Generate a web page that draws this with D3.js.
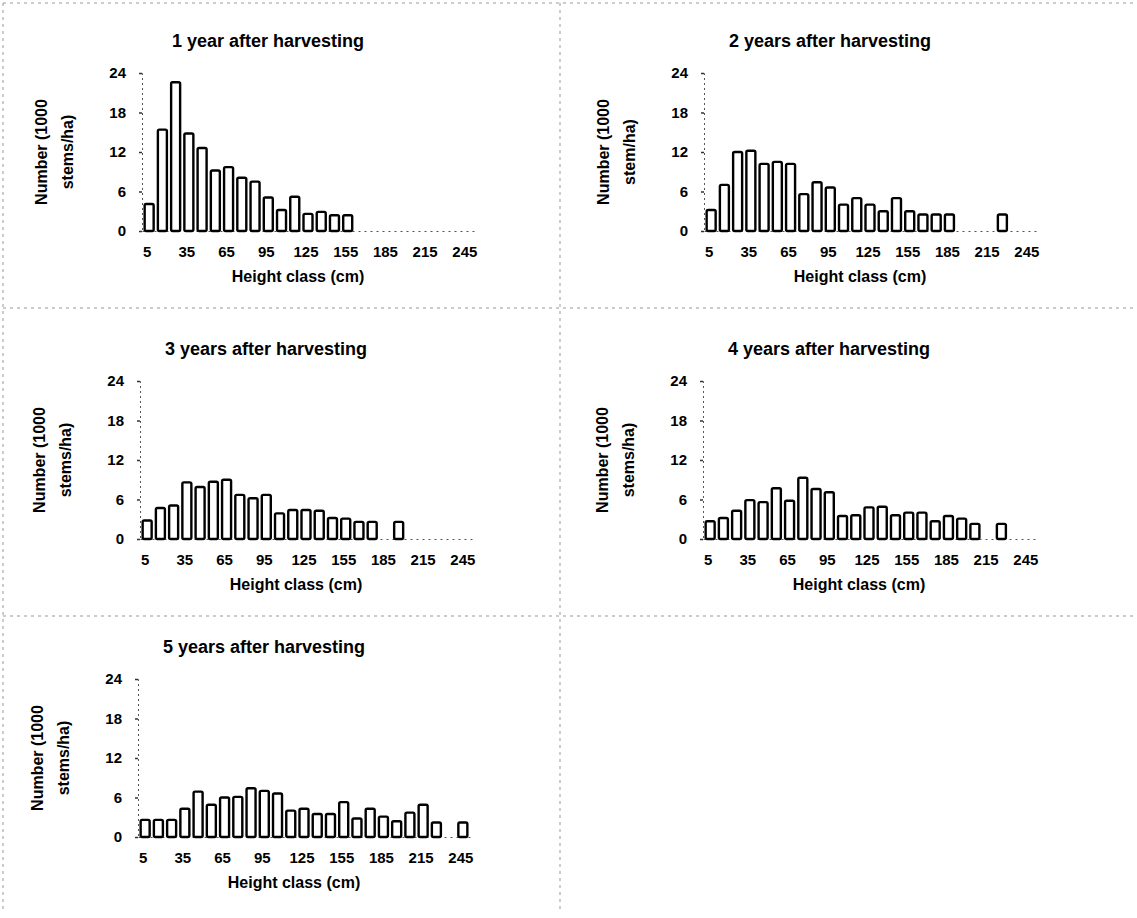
<!DOCTYPE html>
<html>
<head>
  <meta charset="utf-8">
  <title>Height class distribution after harvesting</title>
  <script src="https://d3js.org/d3.v7.min.js"></script>
  <style>
    body { margin: 0; background: #fff; }
    svg { font-family: "Liberation Sans", Arial, sans-serif; font-weight: bold; }
    .title { font-size: 18px; }
    .tick text { font-size: 15px; font-weight: bold; fill: #000; }
    .axis-title { font-size: 16px; }
    .frame { stroke: #999; stroke-width: 1; stroke-dasharray: 3,4; }
  </style>
</head>
<body>
  <svg id="chart" width="1137" height="918"></svg>
  <script>
    // height classes (cm)
    const heightClasses = [5, 15, 25, 35, 45, 55, 65, 75, 85, 95, 105, 115, 125,
      135, 145, 155, 165, 175, 185, 195, 205, 215, 225, 235, 245];
    const xTickLabels = [5, 35, 65, 95, 125, 155, 185, 215, 245];
    const yTickLabels = [0, 6, 12, 18, 24];

    // 1000 stems/ha per height class
    const year1 = [4.1, 15.4, 22.6, 14.8, 12.6, 9.2, 9.7, 8.1, 7.5, 5.1, 3.2, 5.2, 2.6,
      2.9, 2.4, 2.4, 0, 0, 0, 0, 0, 0, 0, 0, 0];
    const year2 = [3.2, 7.0, 12.0, 12.2, 10.2, 10.5, 10.2, 5.6, 7.4, 6.6, 4.0, 5.0, 4.0,
      3.0, 5.0, 3.0, 2.5, 2.5, 2.5, 0, 0, 0, 2.5, 0, 0];
    const year3 = [2.8, 4.7, 5.1, 8.6, 7.9, 8.7, 9.0, 6.7, 6.2, 6.7, 3.9, 4.4, 4.4,
      4.3, 3.2, 3.1, 2.6, 2.6, 0, 2.6, 0, 0, 0, 0, 0];
    const year4 = [2.7, 3.2, 4.3, 5.9, 5.6, 7.7, 5.8, 9.3, 7.6, 7.1, 3.5, 3.6, 4.8,
      4.9, 3.6, 4.0, 4.0, 2.7, 3.5, 3.1, 2.3, 0, 2.3, 0, 0];
    const year5 = [2.6, 2.6, 2.6, 4.3, 6.9, 4.9, 6.0, 6.1, 7.4, 7.0, 6.6, 4.0, 4.3,
      3.5, 3.5, 5.3, 2.8, 4.3, 3.1, 2.4, 3.7, 4.9, 2.2, 0, 2.2];

    const titles = ["1 year after harvesting", "2 years after harvesting",
      "3 years after harvesting", "4 years after harvesting", "5 years after harvesting"];
    const yTitleLine2 = ["stems/ha)", "stem/ha)", "stems/ha)", "stems/ha)", "stems/ha)"];
    const series = [year1, year2, year3, year4, year5];

    const svg = d3.select("#chart");

    // panel frame (dashed like the scanned original)
    svg.append("line").attr("class", "frame").attr("x1", 3).attr("x2", 1134).attr("y1", 3).attr("y2", 3);
    svg.append("line").attr("class", "frame").attr("x1", 3).attr("x2", 3).attr("y1", 3).attr("y2", 910);
    svg.append("line").attr("class", "frame").attr("x1", 560).attr("x2", 560).attr("y1", 3).attr("y2", 910);
    svg.append("line").attr("class", "frame").attr("x1", 3).attr("x2", 1134).attr("y1", 308).attr("y2", 308);
    svg.append("line").attr("class", "frame").attr("x1", 3).attr("x2", 1134).attr("y1", 616).attr("y2", 616);

    const plotW = 332, plotH = 158;
    const origins = [
      { x: 142, y: 0 }, { x: 704, y: 0 },
      { x: 140, y: 308 }, { x: 703, y: 308 },
      { x: 138, y: 606 }
    ];

    const x = d3.scaleBand().domain(heightClasses).range([0, plotW])
      .paddingInner(0.32).paddingOuter(0.2);
    const y = d3.scaleLinear().domain([0, 24]).range([plotH, 0]);

    series.forEach((values, i) => {
      const o = origins[i];
      const g = svg.append("g").attr("transform", `translate(${o.x},${o.y + 73})`);

      // title
      g.append("text").attr("class", "title")
        .attr("x", plotW / 2 - 40).attr("y", -26)
        .attr("text-anchor", "middle").text(titles[i]);

      // y axis
      const yAxis = g.append("g").call(d3.axisLeft(y).tickValues(yTickLabels).tickSize(3).tickPadding(13));
      yAxis.select(".domain").attr("stroke", "#555").attr("stroke-dasharray", "2,3");
      yAxis.selectAll(".tick line").attr("stroke", "#333").attr("stroke-width", 1.5);

      // x axis
      const xAxis = g.append("g").attr("transform", `translate(0,${plotH})`)
        .call(d3.axisBottom(x).tickValues(xTickLabels).tickSize(0).tickPadding(15));
      xAxis.select(".domain").attr("stroke", "#555").attr("stroke-dasharray", "2,4");
      xAxis.selectAll(".tick text").attr("dx", -2);

      // axis titles
      g.append("text").attr("class", "axis-title")
        .attr("x", plotW / 2 - 10).attr("y", plotH + 51)
        .attr("text-anchor", "middle").text("Height class (cm)");

      const yt = g.append("text").attr("class", "axis-title")
        .attr("transform", `translate(-95,${plotH / 2}) rotate(-90)`)
        .attr("text-anchor", "middle");
      yt.append("tspan").attr("x", 0).attr("dy", 0).text("Number (1000");
      yt.append("tspan").attr("x", 0).attr("dy", 26).text(yTitleLine2[i]);

      // bars
      g.selectAll("rect.bar")
        .data(heightClasses.map((h, j) => ({ h, v: values[j] })).filter(d => d.v > 0))
        .join("rect")
        .attr("class", "bar")
        .attr("x", d => x(d.h))
        .attr("y", d => y(d.v))
        .attr("width", x.bandwidth())
        .attr("height", d => plotH - y(d.v))
        .attr("rx", 1.5)
        .attr("fill", "#fff")
        .attr("stroke", "#000")
        .attr("stroke-width", 2.4);
    });
  </script>
</body>
</html>
